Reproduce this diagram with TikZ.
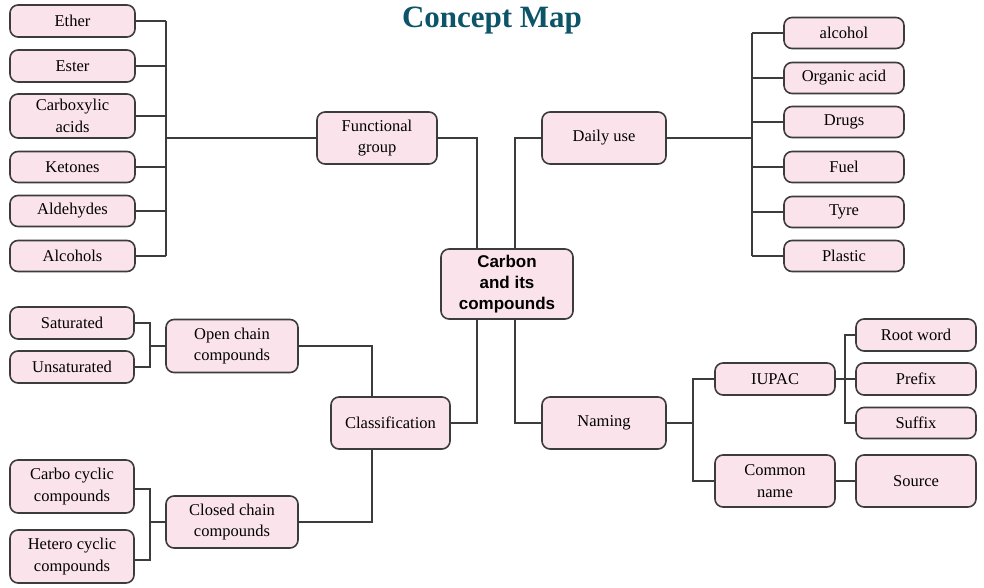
\documentclass[tikz,border=0pt]{standalone}
\usepackage{fontspec}
\setmainfont{Liberation Serif}
\newfontfamily\boxsans{Liberation Sans}
\definecolor{boxfill}{RGB}{251,227,236}
\definecolor{boxline}{RGB}{60,60,60}
\definecolor{titlecol}{RGB}{12,84,104}
\tikzset{
  cbox/.style={draw=boxline, fill=boxfill, rounded corners=8pt, line width=1.6pt,
    align=center, inner sep=0pt, font=\fontsize{16.5}{21.5}\selectfont},
  sz/.style 2 args={minimum width=#1pt, minimum height=#2pt},
  conn/.style={draw=boxline, line width=1.8pt},
}
\begin{document}
\begin{tikzpicture}[x=1pt,y=-1pt]
\useasboundingbox[fill=white] (0,0) rectangle (984,588);
\node[anchor=base, text=titlecol, font=\fontsize{31}{34}\selectfont\bfseries] (title) at (492,28) {Concept Map};

% center
\node[cbox, sz={132}{70}, font=\boxsans\bfseries\fontsize{17}{21}\selectfont] (center) at (507,284) {Carbon\\and its\\compounds};

% functional group branch
\node[cbox, sz={120}{52}] (fg) at (377,138) {Functional\\group};
\node[cbox, sz={125}{32}] (ether) at (72.5,21) {Ether};
\node[cbox, sz={125}{32}] (ester) at (72.5,66) {Ester};
\node[cbox, sz={125}{44}] (carbox) at (72.5,116) {Carboxylic\\acids};
\node[cbox, sz={125}{31}] (ketones) at (72.5,167) {Ketones};
\node[cbox, sz={125}{31}] (aldehydes) at (72.5,211) {Aldehydes};
\node[cbox, sz={125}{31}] (alcohols) at (72.5,256) {Alcohols};
\coordinate (fgbus) at (166,140);

% daily use branch
\node[cbox, sz={124}{52}] (daily) at (604,138) {Daily use};
\node[cbox, sz={120}{31}] (alcohol) at (844,33) {alcohol};
\node[cbox, sz={120}{31}] (orgacid) at (844,78) {Organic acid};
\node[cbox, sz={120}{31}] (drugs) at (844,122) {Drugs};
\node[cbox, sz={120}{31}] (fuel) at (844,167) {Fuel};
\node[cbox, sz={120}{31}] (tyre) at (844,212) {Tyre};
\node[cbox, sz={120}{31}] (plastic) at (844,256) {Plastic};
\coordinate (dubus) at (752,138);

% classification branch
\node[cbox, sz={119}{52}] (class) at (390.5,423) {Classification};
\node[cbox, sz={132}{53}] (open) at (232,346) {Open chain\\compounds};
\node[cbox, sz={132}{52}] (closed) at (232,522) {Closed chain\\compounds};
\node[cbox, sz={124}{32}] (sat) at (72,323) {Saturated};
\node[cbox, sz={124}{32}] (unsat) at (72,367) {Unsaturated};
\node[cbox, sz={124}{53}] (carbo) at (72,486.5) {Carbo cyclic\\compounds};
\node[cbox, sz={124}{53}] (hetero) at (72,556.5) {Hetero cyclic\\compounds};
\coordinate (clx) at (372,423);
\coordinate (obx) at (150,347);
\coordinate (cbx) at (150,522);

% naming branch
\node[cbox, sz={124}{52}] (naming) at (604,423) {Naming};
\node[cbox, sz={120}{32}] (iupac) at (775,379) {IUPAC};
\node[cbox, sz={120}{52}] (common) at (775,481) {Common\\name};
\node[cbox, sz={120}{32}] (root) at (916,335) {Root word};
\node[cbox, sz={120}{32}] (prefix) at (916,379) {Prefix};
\node[cbox, sz={120}{31}] (suffix) at (916,423) {Suffix};
\node[cbox, sz={120}{52}] (source) at (916,481) {Source};
\coordinate (nbus) at (693,423);
\coordinate (ibus) at (845,379);

\coordinate (xL) at (477,284);
\coordinate (xR) at (515,284);

% connectors: functional group
\foreach \n in {ether,ester,carbox,ketones,aldehydes,alcohols}
  \draw[conn] (\n.east) -- (\n.east -| fgbus);
\draw[conn] (ether.east -| fgbus) -- (alcohols.east -| fgbus);
\draw[conn] (fg.west) -- (fg.west -| fgbus);
\draw[conn] (fg.east) -| (xL |- center.north);

% daily use
\draw[conn] (daily.west) -| (xR |- center.north);
\draw[conn] (daily.east) -- (dubus);
\foreach \n in {alcohol,orgacid,drugs,fuel,tyre,plastic}
  \draw[conn] (\n.west) -- (\n.west -| dubus);
\draw[conn] (alcohol.west -| dubus) -- (plastic.west -| dubus);

% classification
\draw[conn] (xL |- center.south) |- (class.east);
\draw[conn] (clx |- class.north) |- (open.east);
\draw[conn] (clx |- class.south) |- (closed.east);
\draw[conn] (sat.east) -- (sat.east -| obx) -- (unsat.east -| obx) -- (unsat.east);
\draw[conn] (open.west) -- (open.west -| obx);
\draw[conn] ([yshift=-2.5pt]carbo.east) -- ([yshift=-2.5pt]carbo.east -| cbx) -- ([yshift=-3.5pt]hetero.east -| cbx) -- ([yshift=-3.5pt]hetero.east);
\draw[conn] (closed.west) -- (closed.west -| cbx);

% naming
\draw[conn] (xR |- center.south) |- (naming.west);
\draw[conn] (naming.east) -- (nbus);
\draw[conn] (iupac.west) -- (iupac.west -| nbus) -- (common.west -| nbus) -- (common.west);
\draw[conn] (iupac.east) -- (prefix.west);
\draw[conn] (root.west) -- (root.west -| ibus) -- (suffix.west -| ibus) -- (suffix.west);
\draw[conn] (common.east) -- (source.west);
\end{tikzpicture}
\end{document}
